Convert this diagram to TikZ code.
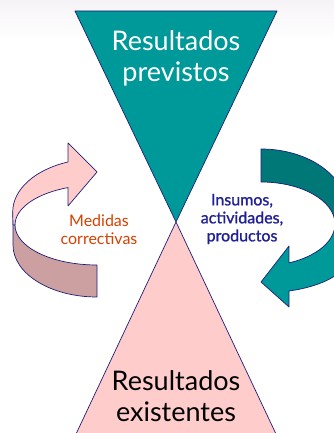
\documentclass[tikz,border=0pt]{standalone}
\usepackage{fontspec}
\setmainfont{Lato}
\newfontfamily\latomedium{Lato}[FakeBold=1.2]
\definecolor{TealMain}{RGB}{0,153,153}
\definecolor{TealDark}{RGB}{0,120,120}
\definecolor{PinkLight}{RGB}{255,204,204}
\definecolor{PinkDark}{RGB}{204,160,160}
\definecolor{EdgeNavy}{RGB}{30,30,120}
\definecolor{TextRed}{RGB}{214,64,0}
\definecolor{TextNavy}{RGB}{32,32,150}
\definecolor{TopHaze}{RGB}{246,243,247}
\tikzset{
  shapeedge/.style={draw=EdgeNavy,line width=0.7pt,line join=round},
  bigtext/.style={align=center,inner sep=0pt,font=\fontsize{27}{31}\selectfont},
  smalltext/.style={align=center,inner sep=0pt,font=\fontsize{16}{18}\selectfont},
}

\begin{document}
\begin{tikzpicture}[x=1pt,y=1pt]
  \useasboundingbox (0,0) rectangle (334,433);
  \clip (0,0) rectangle (334,433);
  \shade[top color=TopHaze,bottom color=white] (0,393) rectangle (334,433);
  \filldraw[shapeedge,fill=TealMain] (75,422) -- (277,422) -- (176,211) -- cycle;
  \filldraw[shapeedge,fill=PinkLight] (176,211) -- (276,-1) -- (76,-1) -- cycle;
  \filldraw[shapeedge,fill=PinkDark] (13,221) -- (13,188)
    arc[start angle=180,end angle=270,x radius=84,y radius=52] -- (97,168)
    arc[start angle=270,end angle=180,x radius=82,y radius=40] -- cycle;
  \filldraw[shapeedge,fill=PinkLight] (68,271)
    arc[start angle=110,end angle=180,x radius=84,y radius=53] -- (13,208) -- (15,208)
    arc[start angle=180,end angle=110.7,x radius=82,y radius=40]
    -- (68,227) -- (97,261) -- (68,290) -- cycle;
  \filldraw[shapeedge,fill=TealDark] (261,284)
    arc[start angle=90,end angle=0,x radius=86,y radius=61] -- (347,209) -- (335,209)
    arc[start angle=0,end angle=90,x radius=74,y radius=42] -- cycle;
  \filldraw[shapeedge,fill=TealMain] (289,142)
    arc[start angle=-71,end angle=0,x radius=86,y radius=35] -- (347,209) -- (335,209)
    arc[start angle=0,end angle=-67.8,x radius=74,y radius=42]
    -- (289,187) -- (261,151) -- (289,126) -- cycle;
  \node[bigtext,text=white] (previstos) at (176,375) {Resultados\\previstos};
  \node[bigtext,text=black] (existentes) at (176,37) {Resultados\\existentes};
  \node[smalltext,text=TextRed] (medidas) at (99,203) {Medidas\\correctivas};
  \node[smalltext,text=TextNavy,font=\fontsize{16}{18}\latomedium] (insumos)
    at (242,214) {Insumos,\\actividades,\\productos};
\end{tikzpicture}
\end{document}
